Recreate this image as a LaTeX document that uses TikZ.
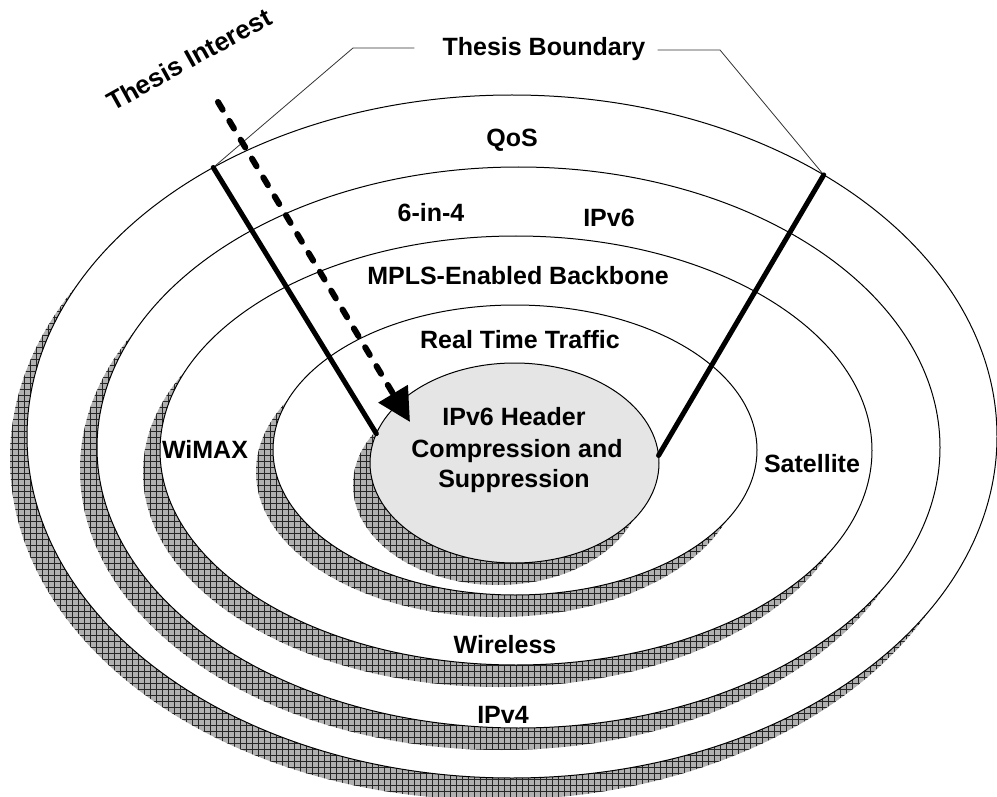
\documentclass[tikz,border=0pt]{standalone}
\usepackage{fontspec}
\setmainfont{Liberation Sans}
\usepackage{tikz}
\usetikzlibrary{arrows.meta,positioning,shapes.geometric,patterns.meta}
\tikzset{
  ring/.style     = {ellipse, draw, line width=1pt, inner sep=0pt, outer sep=0pt},
  hatch/.style    = {preaction={fill=gray!62},
                     preaction={pattern={Lines[angle=0,distance=6pt,line width=.7pt]}, pattern color=black!85},
                     pattern={Lines[angle=90,distance=6pt,line width=.7pt]}, pattern color=black!85},
  lbl/.style      = {font=\fontsize{25}{31}\selectfont\bfseries, inner sep=0pt, anchor=base},
  thinline/.style = {line width=.8pt, black!80},
  boundline/.style= {line width=5pt, line cap=round},
  interest/.style = {line width=6pt, line cap=round, dash pattern=on 9pt off 13pt,
                     -{Triangle[length=33pt,width=33pt]}}
}

\begin{document}
\begin{tikzpicture}[x=1pt, y=-1pt]
    \useasboundingbox (0,0) rectangle (997,797);
    % Rings, outermost first, each with its shadow
    \foreach \nm/\cx/\cy/\rx/\ry/\col in {qosring/512/436.5/485/341.5/white,
        ipring/518.5/447.5/421.5/280.5/white,
        mplsring/516/450.5/356/214.5/white,
        rtring/515/450/242/145/white,
        core/514.5/463/144.5/100/gray!20}{
      \fill[hatch] (\cx-17,\cy+22) ellipse [x radius=\rx, y radius=\ry];
      \node[ring, fill=\col, minimum width=2*\rx, minimum height=2*\ry] (\nm) at (\cx,\cy) {};
    }
    % Ring labels
    \node[lbl] (qos) at (512,147) {QoS};
    \node[lbl] (sixinfour) at (431,222) {6-in-4};
    \node[lbl] (ipvsix) at (609,227) {IPv6};
    \node[lbl] (mpls) at (518,284) {MPLS-Enabled Backbone};
    \node[lbl] (rtt) at (520,348) {Real Time Traffic};
    \node[lbl] (wimax) at (205,458) {WiMAX};
    \node[lbl] (sat) at (812,472) {Satellite};
    \node[lbl] (wireless) at (505,653) {Wireless};
    \node[lbl] (ipvfour) at (503,723) {IPv4};
    % Core text
    \node[lbl] (hdr) at (514,425) {IPv6 Header};
    \node[lbl] (comp) at (517,457) {Compression and};
    \node[lbl] (supp) at (514,487) {Suppression};
    % Thesis boundary
    \node[lbl] (boundary) at (544,56) {Thesis Boundary};
    \coordinate (kneeL) at (353,48);
    \coordinate (kneeR) at (720,50);
    \draw[thinline] ([xshift=-28pt,yshift=8pt]boundary.base west) -- (kneeL) -- (qosring.138.6);
    \draw[thinline] ([xshift=12pt,yshift=6pt]boundary.base east) -- (kneeR) -- (qosring.40);
    \draw[boundline] (qosring.138.6) -- (core.168.5);
    \draw[boundline] (qosring.40) -- (core.3.2);
    % Thesis interest
    \node[lbl, rotate=29, anchor=base west] (interestlbl) at (113,112) {\fontsize{26}{31}\selectfont Thesis Interest};
    \coordinate (arrowstart) at (218,102);
    \coordinate (arrowtip) at (410,422);
    \draw[interest] (arrowstart) -- (arrowtip);
\end{tikzpicture}
\end{document}
